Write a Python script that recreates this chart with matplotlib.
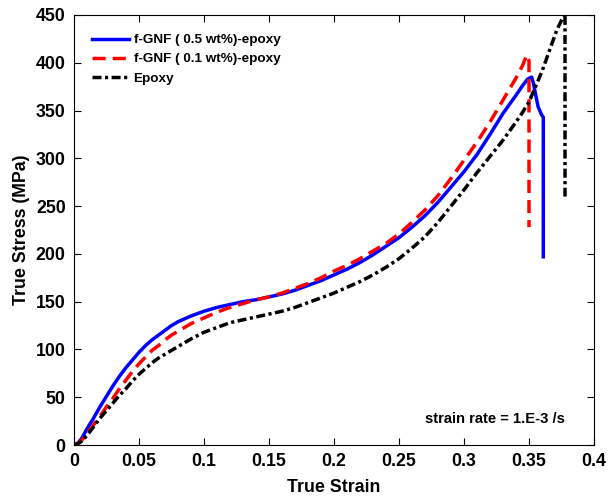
import matplotlib
matplotlib.use('Agg')
import matplotlib.pyplot as plt

plt.rcParams['font.family'] = ['Liberation Sans', 'DejaVu Sans']
plt.rcParams['font.weight'] = 'bold'

# f-GNF 0.5 wt%
x_05 = [0, 0.003, 0.006, 0.01, 0.015, 0.02, 0.025, 0.03, 0.035, 0.04, 0.045, 0.05,
        0.055, 0.06, 0.065, 0.07, 0.075, 0.08, 0.085, 0.09, 0.1, 0.11, 0.12, 0.13,
        0.14, 0.15, 0.16, 0.17, 0.18, 0.19, 0.2, 0.21, 0.22, 0.23, 0.24, 0.25, 0.26,
        0.27, 0.28, 0.29, 0.3, 0.31, 0.32, 0.33, 0.34, 0.345, 0.349, 0.352, 0.3535,
        0.3546, 0.357, 0.3595, 0.361, 0.361]
y_05 = [0, 2, 7, 17, 28, 40, 51, 62, 72, 81, 89, 97,
        104, 110, 115, 120, 125, 129, 132, 135, 140, 144, 147, 150,
        152, 155, 158, 162, 167, 172, 178, 184, 191, 199, 208, 217, 228,
        240, 254, 270, 286, 304, 325, 347, 366, 376, 383, 385, 378,
        370, 354, 346, 343, 197]

# f-GNF 0.1 wt%
x_01 = [0, 0.003, 0.006, 0.01, 0.015, 0.02, 0.025, 0.03, 0.035, 0.04, 0.045, 0.05,
        0.055, 0.06, 0.065, 0.07, 0.075, 0.08, 0.085, 0.09, 0.1, 0.11, 0.12, 0.13,
        0.14, 0.15, 0.16, 0.17, 0.18, 0.19, 0.2, 0.21, 0.22, 0.23, 0.24, 0.25, 0.26,
        0.27, 0.28, 0.29, 0.3, 0.31, 0.32, 0.33, 0.34, 0.345, 0.3482, 0.350, 0.350]
y_01 = [0, 1.5, 5, 12, 21, 30, 40, 49, 59, 68, 77, 85,
        92, 99, 104, 110, 115, 119, 123, 127, 133, 139, 144, 148,
        152, 155, 159, 164, 169, 175, 182, 188, 195, 203, 211, 221, 233,
        246, 261, 279, 298, 317, 338, 361, 384, 397, 408, 402, 228]

# neat epoxy
x_ep = [0, 0.003, 0.006, 0.01, 0.015, 0.02, 0.025, 0.03, 0.035, 0.04, 0.045, 0.05,
        0.055, 0.06, 0.065, 0.07, 0.075, 0.08, 0.085, 0.09, 0.1, 0.11, 0.12, 0.13,
        0.14, 0.15, 0.16, 0.17, 0.18, 0.19, 0.2, 0.21, 0.22, 0.23, 0.24, 0.25, 0.26,
        0.27, 0.28, 0.29, 0.3, 0.31, 0.32, 0.33, 0.34, 0.345, 0.35, 0.36, 0.3713,
        0.3777, 0.3777]
y_ep = [0, 1.5, 4, 10, 19, 28, 36, 44, 52, 59, 67, 74,
        80, 86, 91, 95, 99, 103, 107, 111, 118, 123, 128, 131,
        134, 137, 140, 144, 149, 154, 159, 165, 171, 178, 186, 195, 206,
        218, 233, 250, 267, 285, 302, 319, 338, 348, 359, 391, 434,
        452, 260]

fig = plt.figure(figsize=(6.12, 4.98), dpi=100)
ax = fig.add_axes([0.1209, 0.1064, 0.8497, 0.8635])

ax.plot(x_05, y_05, color='blue', lw=2.5, label='f-GNF ( 0.5 wt%)-epoxy')
ax.plot(x_01, y_01, color='red', lw=2.5, ls=(0, (3.8, 2)), label='f-GNF ( 0.1 wt%)-epoxy')
ax.plot(x_ep, y_ep, color='black', lw=2.5, ls=(0, (2.6, 1, 0.9, 1)), label='Epoxy')

ax.set_xlim(0, 0.4)
ax.set_ylim(0, 450)
ax.set_xticks([0, 0.05, 0.1, 0.15, 0.2, 0.25, 0.3, 0.35, 0.4])
ax.set_xticklabels(['0', '0.05', '0.1', '0.15', '0.2', '0.25', '0.3', '0.35', '0.4'])
ax.set_yticks(range(0, 451, 50))
ax.tick_params(direction='in', top=True, right=True, labelsize=12.8, length=5, pad=6)
for lab in ax.get_xticklabels() + ax.get_yticklabels():
    lab.set_fontweight('bold')

ax.set_xlabel('True Strain', fontsize=12.8, fontweight='bold', labelpad=6)
ax.set_ylabel('True Stress (MPa)', fontsize=12.8, fontweight='bold', labelpad=4)

ax.legend(loc='upper left', bbox_to_anchor=(0.016, 0.978), frameon=False,
          handlelength=2.8, borderaxespad=0.3, labelspacing=0.5, handletextpad=0.3,
          prop={'weight': 'bold', 'size': 9.7})

ax.text(0.324, 27, 'strain rate = 1.E-3 /s', ha='center', va='center',
        fontsize=10.6, fontweight='bold')

fig.savefig('out.png', dpi=100)
